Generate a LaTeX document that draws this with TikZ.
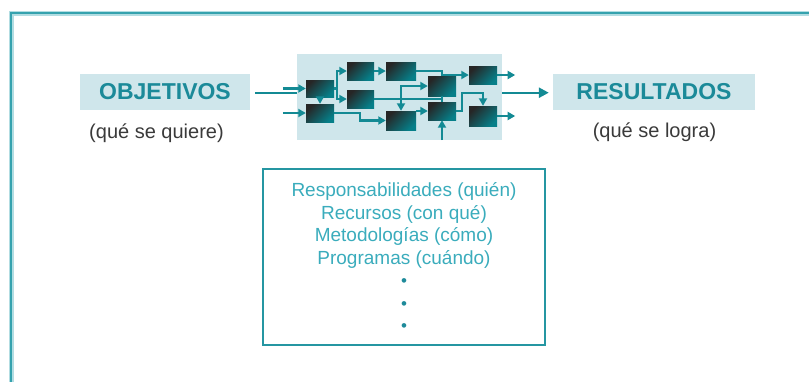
\documentclass[tikz,border=0pt]{standalone}
\usepackage{fontspec}
\setmainfont{Liberation Sans}
\usetikzlibrary{arrows.meta,calc}

\definecolor{tealtxt}{HTML}{1B8A99}
\definecolor{conncol}{HTML}{138A94}
\definecolor{lightbg}{HTML}{CFE6EB}
\definecolor{itemtxt}{HTML}{3AACBC}
\definecolor{dotcol}{HTML}{1E8A9A}
\definecolor{captxt}{HTML}{3A3A3A}
\definecolor{framecol}{HTML}{35A2AE}
\definecolor{framehalo}{HTML}{B2DDE2}
\definecolor{boxline}{HTML}{2596A2}
\definecolor{blkdark}{HTML}{262626}
\definecolor{blkteal}{HTML}{067F89}

\tikzset{
  blk/.style={inner sep=0pt, left color=blkdark, right color=blkteal, shading angle=45},
  conn/.style={draw=conncol, line width=2.3pt, -{Triangle[length=7.5pt,width=8pt]}},
  bigconn/.style={draw=conncol, line width=2.4pt, -{Triangle[length=10pt,width=10pt]}},
  plainconn/.style={draw=conncol, line width=2.3pt},
  tag/.style={fill=lightbg, inner sep=0pt, minimum height=36pt,
    font=\fontsize{23}{26}\selectfont\bfseries, text=tealtxt},
  caption/.style={font=\fontsize{20}{24}\selectfont, text=captxt, inner sep=0pt},
}

\begin{document}
\begin{tikzpicture}[x=1pt,y=-1pt]
\useasboundingbox (0,0) rectangle (809,381);
\clip (0,0) rectangle (809,381);

% outer frame (only its top and left sides fall inside the page)
\draw[framehalo, line width=5pt] (11,420) -- (11,13) -- (850,13);
\draw[framecol, line width=2.6pt] (11,420) -- (11,13) -- (850,13);

% process panel
\node[fill=lightbg, inner sep=0pt, minimum width=205.5pt, minimum height=86pt] (bg) at (399.5,97) {};

% process blocks
\node[blk, minimum width=28pt, minimum height=17pt] (b1) at (320,88.5) {};
\node[blk, minimum width=28pt, minimum height=18pt] (b2) at (320,113) {};
\node[blk, minimum width=27pt, minimum height=18pt] (b3) at (360.5,71) {};
\node[blk, minimum width=27pt, minimum height=18pt] (b4) at (360.5,99) {};
\node[blk, minimum width=30pt, minimum height=18pt] (b5) at (401,71) {};
\node[blk, minimum width=30pt, minimum height=19pt] (b6) at (401,120.5) {};
\node[blk, minimum width=28pt, minimum height=20pt] (b7) at (442,86) {};
\node[blk, minimum width=28pt, minimum height=18pt] (b8) at (442,111) {};
\node[blk, minimum width=28pt, minimum height=18pt] (b9) at (483,75) {};
\node[blk, minimum width=28pt, minimum height=20pt] (b10) at (483,116) {};

% labels left and right
\node[tag, minimum width=170pt] (obj) at (165,92) {OBJETIVOS};
\node[caption] (objc) at (156.5,133) {(qué se quiere)};
\node[tag, minimum width=202pt] (res) at (654,92) {RESULTADOS};
\node[caption] (resc) at (654.5,132) {(qué se logra)};

% inputs
\draw[plainconn, shorten <=5pt] (obj.east |- 0,93.3) -- (bg.west |- 0,93.3);
\coordinate (in1) at ([xshift=-23pt]b1.west);
\coordinate (in2) at ([xshift=-23pt]b2.west);
\draw[conn] (in1) -- (b1.west);
\draw[conn] (in2) -- (b2.west);
\coordinate (in3) at (b8.south |- bg.south);
\draw[conn] (in3) -- (b8.south);

% internal flow
\draw[conn] (b1.south) -- (b2.north);
\draw[conn] (b1.east) -- ++(3,0) |- (b3.west);
\draw[conn] (b1.east) -- ++(3,0) |- (b4.west);
\draw[conn] (b3.east) -- (b5.west);
\draw[conn] (b5.east) -- ++(26,0) |- (b9.west);
\draw[conn] (b2.east) -- ++(26,0) |- (b6.west);
\coordinate (j) at (b4.east -| b6.north);
\draw[plainconn] (b4.east) -- (b4.east -| b7.south);
\draw[plainconn] (b7.south) -- (b8.north);
\draw[conn] (j) |- (b7.west);
\draw[conn] (j) -- (b6.north);
\draw[conn] (b6.east |- b8.west) -- (b8.west);
\draw[conn] (b8.east) -- ++(6,0) -- ++(0,-18) -| (b10.north);

% outputs
\draw[conn] (b9.east) -- ++(18,0);
\draw[conn] (b10.east) -- ++(18,0);
\draw[bigconn, shorten >=4pt] (bg.east |- 0,92.7) -- (res.west |- 0,92.7);

% resources box
\node[draw=boxline, line width=2.4pt, inner sep=0pt, minimum width=282pt, minimum height=176pt] (rb) at (404,257) {};
\node[anchor=north, align=center, inner sep=0pt, text=itemtxt,
      font=\fontsize{19}{22.5}\selectfont] (items) at (404,182.5)
  {Responsabilidades (quién)\\Recursos (con qué)\\Metodologías (cómo)\\Programas (cuándo)\\
   {\color{dotcol}\fontsize{17}{22.5}\selectfont •}\\
   {\color{dotcol}\fontsize{17}{22.5}\selectfont •}\\
   {\color{dotcol}\fontsize{17}{22.5}\selectfont •}};
\end{tikzpicture}
\end{document}
